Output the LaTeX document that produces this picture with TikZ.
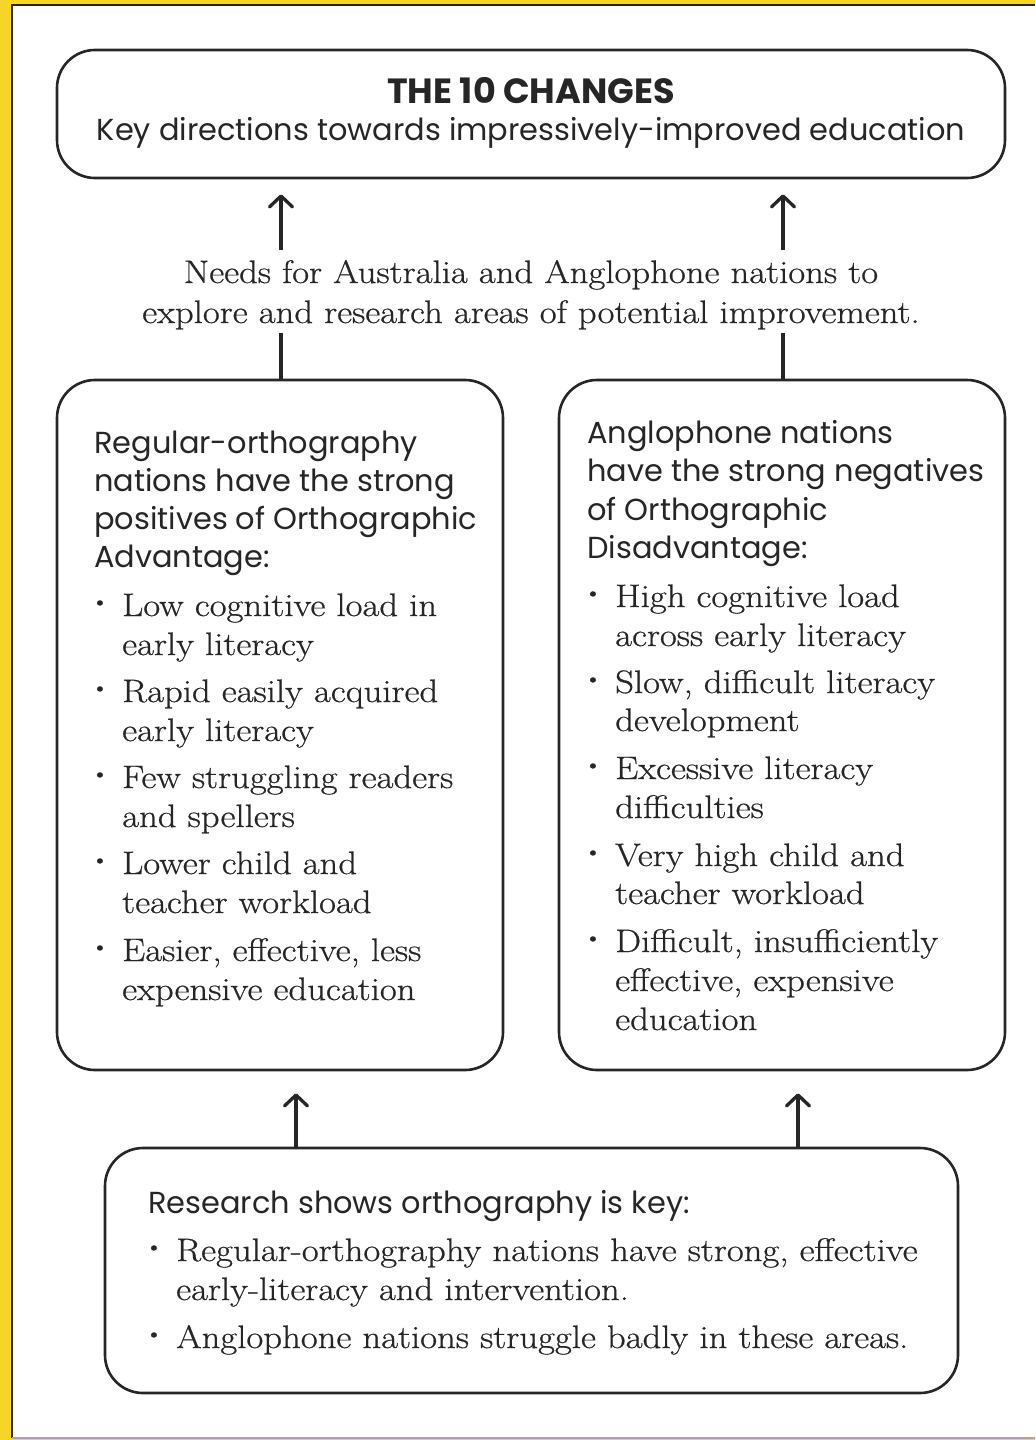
\documentclass[tikz,border=0pt]{standalone}
\usepackage{fontspec}
\setsansfont{Poppins}
\setmainfont{Latin Modern Roman}[FakeStretch=1.13,FakeBold=0.6]
\usepackage{graphicx}
\usetikzlibrary{arrows.meta}
\definecolor{frameyellow}{RGB}{245,214,38}
\definecolor{ink}{RGB}{38,38,38}
\newcommand\dotmark{\llap{\raisebox{7pt}{\scalebox{0.7}{\textbullet}}\hspace{13pt}}}
\begin{document}
\begin{tikzpicture}[x=1pt,y=-1pt,
  box/.style={draw=ink, line width=2.6pt, rounded corners=38pt, inner sep=0pt},
  sanstxt/.style={font=\sffamily\fontsize{30.4}{38}\selectfont, text=ink, anchor=base west, inner sep=0pt},
  sertxt/.style={font=\fontsize{32.5}{39}\selectfont, text=ink, anchor=base west, inner sep=0pt},
  link/.style={draw=ink, line width=3.3pt},
  up/.style={link, -{Straight Barb[length=11pt,width=23pt,line width=3.3pt,round]}}
]
% page frame
\fill[frameyellow] (0,0) rectangle (1035,1440);
\fill[white] (12,5) rectangle (1035,1438);
\draw[ink, line width=1.5pt] (12,1438) -- (12,5) -- (1035,5);
\draw[gray!70, line width=1.5pt] (12,1438) -- (1035,1438);
\useasboundingbox (0,0) rectangle (1035,1440);

% boxes
\node[box, minimum width=948pt, minimum height=128pt] (top) at (531,114) {};
\node[box, minimum width=446pt, minimum height=690pt] (lft) at (280,725) {};
\node[box, minimum width=446pt, minimum height=690pt] (rgt) at (782,725) {};
\node[box, minimum width=853pt, minimum height=245pt] (bot) at (531.5,1270.5) {};

% top box text
\node[font=\sffamily\bfseries\fontsize{35}{40}\selectfont, text=ink, anchor=base, inner sep=0pt] (title) at (531,103) {THE 10 CHANGES};
\node[sanstxt, anchor=base] (sub) at (531,140) {Key directions towards impressively-improved education};

% middle statement
\node[sertxt, anchor=base] (n1) at (531,283) {Needs for Australia and Anglophone nations to};
\node[sertxt, anchor=base] (n2) at (531,323) {explore and research areas of potential improvement.};
\coordinate (needsTop) at (531,250);
\coordinate (needsBot) at (531,333);

% left box
\node[sanstxt] (lh1) at (94,453) {Regular-orthography};
\node[sanstxt] (lh2) at (94,491) {nations have the strong};
\node[sanstxt] (lh3) at (94,529) {positives of Orthographic};
\node[sanstxt] (lh4) at (94,567) {Advantage:};
\node[sertxt] (la1) at (122,616) {\dotmark Low cognitive load in};
\node[sertxt] (la2) at (122,655) {early literacy};
\node[sertxt] (lb1) at (122,702) {\dotmark Rapid easily acquired};
\node[sertxt] (lb2) at (122,741) {early literacy};
\node[sertxt] (lc1) at (122,788) {\dotmark Few struggling readers};
\node[sertxt] (lc2) at (122,827) {and spellers};
\node[sertxt] (ld1) at (122,874) {\dotmark Lower child and};
\node[sertxt] (ld2) at (122,913) {teacher workload};
\node[sertxt] (le1) at (122,961) {\dotmark Easier, effective, less};
\node[sertxt] (le2) at (122,1000) {expensive education};

% right box
\node[sanstxt] (rh1) at (587,443) {Anglophone nations};
\node[sanstxt] (rh2) at (587,481) {have the strong negatives};
\node[sanstxt] (rh3) at (587,520) {of Orthographic};
\node[sanstxt] (rh4) at (587,558) {Disadvantage:};
\node[sertxt] (ra1) at (615,607) {\dotmark High cognitive load};
\node[sertxt] (ra2) at (615,646) {across early literacy};
\node[sertxt] (rb1) at (615,693) {\dotmark Slow, difficult literacy};
\node[sertxt] (rb2) at (615,731) {development};
\node[sertxt] (rc1) at (615,779) {\dotmark Excessive literacy};
\node[sertxt] (rc2) at (615,818) {difficulties};
\node[sertxt] (rd1) at (615,866) {\dotmark Very high child and};
\node[sertxt] (rd2) at (615,904) {teacher workload};
\node[sertxt] (re1) at (615,952) {\dotmark Difficult, insufficiently};
\node[sertxt] (re2) at (615,991) {effective, expensive};
\node[sertxt] (re3) at (615,1030) {education};

% bottom box
\node[sanstxt] (bh) at (148,1213) {Research shows orthography is key:};
\node[sertxt] (ba1) at (176,1261) {\dotmark Regular-orthography nations have strong, effective};
\node[sertxt] (ba2) at (176,1300) {early-literacy and intervention.};
\node[sertxt] (bb1) at (176,1348) {\dotmark Anglophone nations struggle badly in these areas.};

% connectors
\coordinate (xl) at (281,0);
\coordinate (xr) at (783,0);
\draw[up, shorten >=15pt] (xl |- needsTop) -- (xl |- top.south);
\draw[up, shorten >=15pt] (xr |- needsTop) -- (xr |- top.south);
\draw[link] (xl |- lft.north) -- (xl |- needsBot);
\draw[link] (xr |- rgt.north) -- (xr |- needsBot);
\coordinate (bl) at (296,0);
\coordinate (br) at (798,0);
\draw[up, shorten >=22pt] (bl |- bot.north) -- (bl |- lft.south);
\draw[up, shorten >=22pt] (br |- bot.north) -- (br |- rgt.south);
\end{tikzpicture}
\end{document}
